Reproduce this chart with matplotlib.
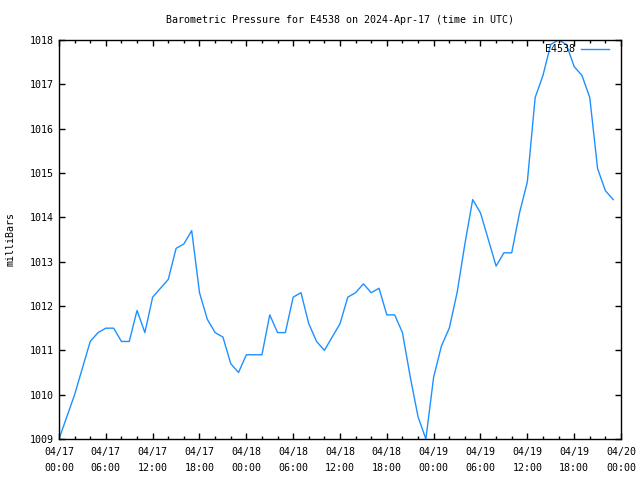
import matplotlib
matplotlib.use("Agg")
import matplotlib.pyplot as plt
import matplotlib.dates as mdates
import pandas as pd

# hourly readings, 2024-04-17 00:00 .. 2024-04-19 23:00 UTC
horas = pd.date_range("2024-04-17 00:00", periods=72, freq="h")
pressao = [
    1009.0, 1009.5, 1010.0, 1010.6, 1011.2, 1011.4, 1011.5, 1011.5,
    1011.2, 1011.2, 1011.9, 1011.4, 1012.2, 1012.4, 1012.6, 1013.3,
    1013.4, 1013.7, 1012.3, 1011.7, 1011.4, 1011.3, 1010.7, 1010.5,
    1010.9, 1010.9, 1010.9, 1011.8, 1011.4, 1011.4, 1012.2, 1012.3,
    1011.6, 1011.2, 1011.0, 1011.3, 1011.6, 1012.2, 1012.3, 1012.5,
    1012.3, 1012.4, 1011.8, 1011.8, 1011.4, 1010.4, 1009.5, 1009.0,
    1010.4, 1011.1, 1011.5, 1012.3, 1013.4, 1014.4, 1014.1, 1013.5,
    1012.9, 1013.2, 1013.2, 1014.1, 1014.8, 1016.7, 1017.2, 1017.9,
    1018.0, 1017.9, 1017.4, 1017.2, 1016.7, 1015.1, 1014.6, 1014.4,
]
estacao = "E4538"
titulo = "Barometric Pressure for E4538 on 2024-Apr-17 (time in UTC)"

plt.rcParams['font.family'] = ['DejaVu Sans Mono']
plt.rcParams['font.size'] = 7.2

fig = plt.figure(figsize=(6.4, 4.8), dpi=100)
ax = fig.add_axes([59 / 640, 1 - 439 / 480, 562 / 640, 399 / 480])

ax.plot(horas, pressao, color='#1e90ff', linewidth=1, label=estacao)

ax.set_xlim(pd.Timestamp("2024-04-17 00:00"), pd.Timestamp("2024-04-20 00:00"))
ax.set_ylim(1009, 1018)
ax.set_yticks(range(1009, 1019))

ax.xaxis.set_major_locator(mdates.HourLocator(byhour=range(0, 24, 6)))
ax.xaxis.set_minor_locator(mdates.HourLocator(interval=2))
ax.xaxis.set_major_formatter(mdates.DateFormatter('%m/%d\n%H:%M'))
for lbl in ax.get_xticklabels():
    lbl.set_linespacing(1.75)

ax.tick_params(which='both', direction='in', top=True, right=True, color='black', width=1)
ax.tick_params(which='major', length=4.5, pad=6)
ax.tick_params(which='minor', length=2.5)
ax.tick_params(axis='y', pad=4)
for s in ax.spines.values():
    s.set_linewidth(1)

ax.set_title(titulo, fontsize=7.2, pad=12)
ax.set_ylabel('milliBars', labelpad=10)

ax.legend(loc='upper right', bbox_to_anchor=(1 - 6 / 562, 1 + 2 / 399),
          frameon=False, markerfirst=False, handlelength=2.8,
          borderaxespad=0.2, handletextpad=0.6)

fig.savefig('out.png', dpi=100)
